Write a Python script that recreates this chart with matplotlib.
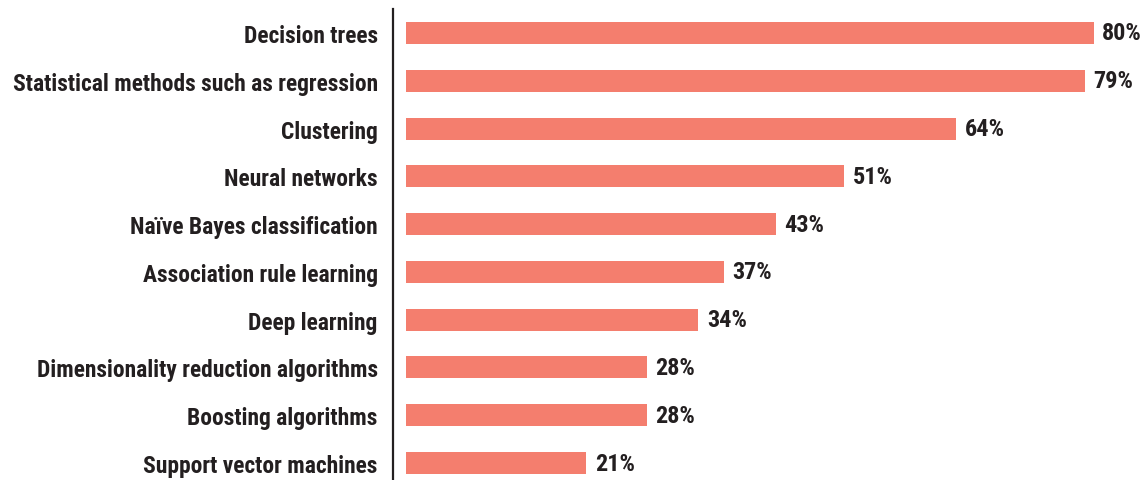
import matplotlib
matplotlib.use("Agg")
import matplotlib.pyplot as plt

# Data
methods = [
    "Decision trees",
    "Statistical methods such as regression",
    "Clustering",
    "Neural networks",
    "Naïve Bayes classification",
    "Association rule learning",
    "Deep learning",
    "Dimensionality reduction algorithms",
    "Boosting algorithms",
    "Support vector machines",
]
shares = [80, 79, 64, 51, 43, 37, 34, 28, 28, 21]

bar_color = "#F47E6E"
text_color = "#231F20"
plt.rcParams["font.family"] = ["Roboto Condensed", "Archivo Narrow", "DejaVu Sans"]

fig = plt.figure(figsize=(11.47, 4.81), dpi=100)
ax = fig.add_axes([393 / 1147, 0, 1 - 393 / 1147, 471 / 481])

ypos = list(range(len(methods)))
ax.barh(ypos, shares, height=0.46, color=bar_color)

for y, v in zip(ypos, shares):
    ax.text(v + 1.0, y, f"{v}%", va="center", ha="left", fontsize=17.5,
            fontweight="bold", color=text_color)

ax.set_yticks(ypos)
ax.set_yticklabels(methods, fontsize=16.9, fontweight="bold", color=text_color)
ax.tick_params(axis="y", length=0, pad=11)
ax.set_xticks([])
ax.set_xlim(-1.5, 86.2)
ax.set_ylim(9 + 17 / 47.78, -24 / 47.78)

for s in ["top", "right", "bottom"]:
    ax.spines[s].set_visible(False)
ax.spines["left"].set_linewidth(1.6)
ax.spines["left"].set_color(text_color)

fig.savefig("out.png", dpi=100)
